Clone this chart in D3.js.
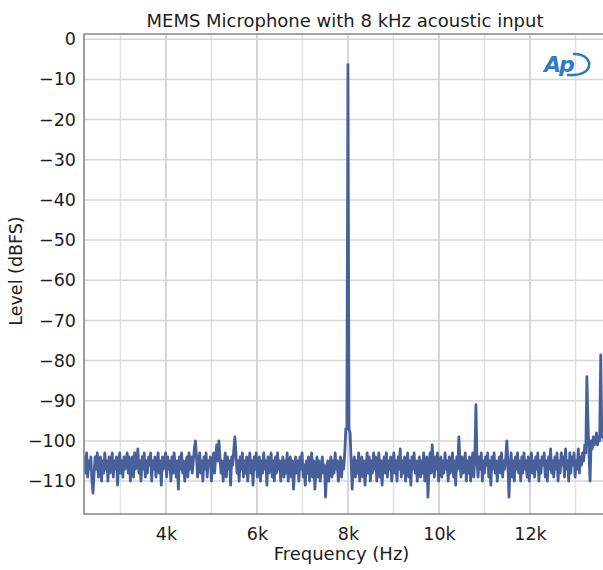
<!DOCTYPE html>
<html>
<head>
<meta charset="utf-8">
<script src="https://cdn.jsdelivr.net/npm/d3@7"></script>
<style>
  html, body { margin: 0; padding: 0; background: #ffffff; }
  svg { display: block; }
  text { font-family: "DejaVu Sans", "Noto Sans", sans-serif; fill: #1c1c1c; }
</style>
</head>
<body>
<svg id="chart" width="603" height="570"></svg>
<script>
// FFT spectrum of a MEMS microphone driven by an 8 kHz acoustic tone.
const chartTitle = "MEMS Microphone with 8 kHz acoustic input";
const xTitle = "Frequency (Hz)";
const yTitle = "Level (dBFS)";

// FFT bin grid (Hz)
const freqStart = 2187.5;
const binWidth = 23.4375;

// Level per bin (dBFS)
const levels = [
  -106, -104, -108, -103, -109, -105, -107, -104, -110, -113,
  -108, -104, -107, -103, -109, -106, -104, -110, -105, -108,
  -103, -107, -105, -110, -104, -108, -106, -103, -109, -105,
  -107, -104, -111, -106, -103, -108, -105, -109, -104, -107,
  -105, -103, -108, -104, -110, -106, -104, -109, -103, -107,
  -106, -102, -108, -105, -110, -104, -107, -103, -109, -105,
  -108, -104, -106, -103, -110, -105, -107, -104, -109, -106,
  -103, -108, -105, -111, -104, -107, -106, -103, -109, -104,
  -107, -105, -110, -104, -108, -103, -106, -109, -105, -112,
  -104, -107, -103, -108, -105, -110, -106, -104, -109, -103,
  -107, -104, -108, -105, -102, -100, -104, -109, -106, -103,
  -108, -105, -110, -104, -107, -103, -109, -105, -106, -104,
  -110, -106, -103, -108, -104, -101, -105, -100, -104, -108,
  -105, -110, -106, -103, -109, -104, -107, -105, -111, -104,
  -106, -102, -99, -103, -108, -105, -110, -104, -107, -103,
  -109, -105, -108, -104, -110, -106, -103, -108, -105, -111,
  -104, -107, -103, -109, -106, -104, -110, -105, -108, -103,
  -107, -105, -111, -104, -108, -106, -103, -109, -105, -110,
  -104, -108, -103, -107, -105, -110, -106, -104, -109, -105,
  -108, -103, -110, -106, -104, -109, -105, -112, -107, -104,
  -108, -105, -110, -104, -107, -103, -109, -106, -111, -105,
  -108, -104, -110, -106, -103, -109, -105, -112, -107, -104,
  -109, -105, -110, -107, -104, -108, -106, -114, -108, -105,
  -110, -106, -104, -109, -105, -108, -103, -107, -105, -110,
  -106, -104, -109, -105, -107, -103, -97, -97, -6.3, -97,
  -98, -105, -112, -106, -104, -109, -105, -108, -103, -110,
  -106, -104, -109, -105, -111, -107, -103, -108, -104, -110,
  -105, -108, -103, -107, -104, -110, -106, -103, -109, -105,
  -111, -106, -104, -108, -103, -109, -105, -107, -104, -110,
  -106, -103, -108, -105, -110, -104, -107, -102, -109, -105,
  -108, -104, -110, -106, -103, -109, -105, -111, -104, -107,
  -103, -108, -105, -110, -106, -104, -109, -105, -108, -103,
  -110, -106, -104, -114, -107, -103, -108, -101, -105, -109,
  -104, -107, -103, -110, -106, -104, -109, -105, -108, -103,
  -107, -105, -110, -104, -108, -106, -103, -109, -105, -111,
  -104, -107, -99, -105, -109, -104, -108, -106, -103, -110,
  -105, -108, -104, -110, -106, -103, -109, -104, -91, -105,
  -109, -104, -107, -103, -110, -105, -108, -104, -106, -103,
  -109, -105, -111, -104, -107, -103, -108, -105, -110, -106,
  -104, -108, -103, -109, -105, -107, -104, -100, -106, -114,
  -106, -103, -109, -105, -110, -104, -107, -103, -108, -105,
  -110, -104, -108, -103, -107, -105, -109, -104, -110, -106,
  -103, -108, -105, -109, -104, -107, -103, -110, -105, -108,
  -104, -106, -103, -109, -105, -110, -104, -107, -102, -108,
  -105, -109, -104, -107, -103, -110, -105, -108, -103, -106,
  -104, -109, -102, -107, -105, -110, -103, -108, -104, -106,
  -103, -109, -105, -107, -102, -108, -104, -106, -103, -105,
  -101, -103, -84, -95, -103, -110, -100, -102, -99, -101,
  -100, -98, -101, -99, -100, -78.6, -99, -98, -100, -99,
  -98, -100
];

const xTickValues = [4000, 6000, 8000, 10000, 12000];
const xTickLabels = ["4k", "6k", "8k", "10k", "12k"];
const xGridValues = [3000, 4000, 5000, 6000, 7000, 8000, 9000, 10000, 11000, 12000, 13000, 14000];
const yTickValues = [0, -10, -20, -30, -40, -50, -60, -70, -80, -90, -100, -110];

const W = 603, H = 570;
const plot = { left: 84, top: 34, bottom: 514, right: 621 };

const svg = d3.select("#chart");
svg.append("rect").attr("width", W).attr("height", H).attr("fill", "#ffffff");

const x = d3.scaleLinear().domain([2200, 14000]).range([plot.left, plot.right]);
const y = d3.scaleLinear().domain([-118.2, 1.3]).range([plot.bottom, plot.top]);

svg.append("defs").append("clipPath").attr("id", "plotClip")
  .append("rect")
  .attr("x", plot.left).attr("y", plot.top)
  .attr("width", plot.right - plot.left).attr("height", plot.bottom - plot.top);

// grid
const grid = svg.append("g").attr("clip-path", "url(#plotClip)");
grid.selectAll("line.vgrid").data(xGridValues).join("line")
  .attr("class", "vgrid")
  .attr("x1", d => x(d)).attr("x2", d => x(d))
  .attr("y1", plot.top).attr("y2", plot.bottom)
  .attr("stroke", d => (d % 2000 === 0) ? "#c9c9c9" : "#e1e1e1")
  .attr("stroke-width", 1.5);
grid.selectAll("line.hgrid").data(yTickValues).join("line")
  .attr("class", "hgrid")
  .attr("x1", plot.left).attr("x2", plot.right)
  .attr("y1", d => y(d)).attr("y2", d => y(d))
  .attr("stroke", "#d6d6d6")
  .attr("stroke-width", 1.5);

// spectrum trace
const spectrum = levels.map((v, i) => ({ f: freqStart + i * binWidth, v }));
const line = d3.line().x(d => x(d.f)).y(d => y(d.v));
svg.append("path")
  .datum(spectrum)
  .attr("clip-path", "url(#plotClip)")
  .attr("fill", "none")
  .attr("stroke", "#47609c")
  .attr("stroke-width", 2.8)
  .attr("stroke-linejoin", "round")
  .attr("d", line);

// frame
svg.append("path")
  .attr("d", `M${W + 5},${plot.top}H${plot.left}V${plot.bottom}H${W + 5}`)
  .attr("fill", "none")
  .attr("stroke", "#858585")
  .attr("stroke-width", 1.6);

// axes
const yAxis = d3.axisLeft(y).tickValues(yTickValues).tickSize(0).tickPadding(8)
  .tickFormat(d => d3.format("d")(d));
const gy = svg.append("g").attr("transform", `translate(${plot.left},0)`).call(yAxis);
gy.select(".domain").remove();
gy.selectAll("text").style("font-family", "DejaVu Sans, sans-serif").style("font-size", "17.5px").attr("fill", "#1c1c1c");

const xAxis = d3.axisBottom(x).tickValues(xTickValues).tickSize(0).tickPadding(13.5)
  .tickFormat((d, i) => xTickLabels[i]);
const gx = svg.append("g").attr("transform", `translate(0,${plot.bottom})`).call(xAxis);
gx.select(".domain").remove();
gx.selectAll("text").style("font-family", "DejaVu Sans, sans-serif").style("font-size", "17.5px").attr("fill", "#1c1c1c");

// titles
svg.append("text").attr("x", 345).attr("y", 26.5).attr("text-anchor", "middle")
  .style("font-size", "18px").text(chartTitle);
svg.append("text").attr("x", 341.5).attr("y", 560).attr("text-anchor", "middle")
  .style("font-size", "18px").text(xTitle);
svg.append("text").attr("transform", "translate(21.5,271) rotate(-90)").attr("text-anchor", "middle")
  .style("font-size", "17.5px").text(yTitle);

// brand mark
const logo = svg.append("g").attr("transform", "translate(544,53)");
logo.append("text").attr("x", 0).attr("y", 19)
  .style("font-family", "DejaVu Sans, sans-serif").style("font-size", "22px")
  .style("font-style", "italic").style("font-weight", "bold")
  .style("letter-spacing", "-2px")
  .style("fill", "#2d7cc2").text("Ap");
logo.append("path")
  .attr("d", "M30,1 C42,1 46,8 45,13 C44,19 36,23 24,22")
  .attr("fill", "none").attr("stroke", "#2d7cc2").attr("stroke-width", 2.6)
  .attr("stroke-linecap", "round");
</script>
</body>
</html>
